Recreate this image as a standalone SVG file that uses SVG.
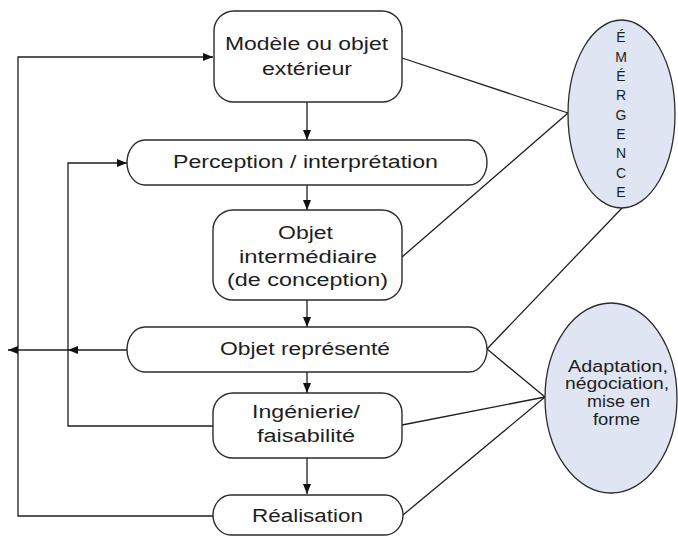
<svg xmlns="http://www.w3.org/2000/svg" width="678" height="536" viewBox="0 0 678 536">
<style>
.box{fill:#fff;stroke:#2b2b2b;stroke-width:1.4}
.ell{fill:#dfe5f2;stroke:#2b2b2b;stroke-width:1.3}
.t{font-family:"Liberation Sans",Arial,sans-serif;font-size:18px;fill:#1e1e1e}
.s{font-family:"Liberation Sans",Arial,sans-serif;font-size:16px;fill:#1e1e1e}
.v{font-family:"Liberation Sans",Arial,sans-serif;font-size:14px;fill:#1e1e1e;text-anchor:middle}
.c{fill:none;stroke:#1e1e1e;stroke-width:1.3}
.a{marker-end:url(#arr)}
</style>
<defs>
<marker id="arr" viewBox="0 0 10 8" refX="10" refY="4" markerWidth="10" markerHeight="8" markerUnits="userSpaceOnUse" orient="auto">
<path d="M0,0 L10,4 L0,8 Z" fill="#111"/>
</marker>
</defs>
<g id="connectors">
<line class="c a" x1="307" y1="102" x2="307" y2="140"/>
<line class="c a" x1="307" y1="185" x2="307" y2="210"/>
<line class="c a" x1="307" y1="300" x2="307" y2="327"/>
<line class="c a" x1="307" y1="372" x2="307" y2="393"/>
<line class="c a" x1="307" y1="458" x2="307" y2="494"/>
<polyline class="c a" points="213,516 18,516 18,57 213,57"/>
<polyline class="c a" points="213,426 68,426 68,163 127,163"/>
<line class="c a" x1="127" y1="350" x2="68" y2="350"/>
<line class="c a" x1="68" y1="350" x2="8" y2="350"/>
<line class="c" x1="402" y1="58" x2="568" y2="113"/>
<line class="c" x1="402" y1="257" x2="568" y2="113"/>
<line class="c" x1="487" y1="349" x2="623" y2="207"/>
<line class="c" x1="487" y1="349" x2="545" y2="397"/>
<line class="c" x1="402" y1="425" x2="545" y2="397"/>
<line class="c" x1="403" y1="515" x2="545" y2="397"/>
</g>
<g id="modele">
<rect class="box" x="214" y="11" width="188" height="91" rx="20" ry="20"/>
<text class="t" x="225" y="50" textLength="163" lengthAdjust="spacingAndGlyphs">Modèle ou objet</text>
<text class="t" x="262" y="75" textLength="90" lengthAdjust="spacingAndGlyphs">extérieur</text>
</g>
<g id="perception">
<rect class="box" x="127" y="140" width="360" height="45" rx="18" ry="22.5"/>
<text class="t" x="173" y="168" textLength="265" lengthAdjust="spacingAndGlyphs">Perception / interprétation</text>
</g>
<g id="intermediaire">
<rect class="box" x="213" y="210" width="189" height="90" rx="20" ry="20"/>
<text class="t" x="278" y="239" textLength="55" lengthAdjust="spacingAndGlyphs">Objet</text>
<text class="t" x="239" y="263" textLength="138" lengthAdjust="spacingAndGlyphs">intermédiaire</text>
<text class="t" x="227" y="286" textLength="161" lengthAdjust="spacingAndGlyphs">(de conception)</text>
</g>
<g id="represente">
<rect class="box" x="127" y="327" width="360" height="45" rx="18" ry="22.5"/>
<text class="t" x="220" y="355" textLength="170" lengthAdjust="spacingAndGlyphs">Objet représenté</text>
</g>
<g id="ingenierie">
<rect class="box" x="213" y="393" width="189" height="65" rx="20" ry="20"/>
<text class="t" x="252" y="418" textLength="108" lengthAdjust="spacingAndGlyphs">Ingénierie/</text>
<text class="t" x="257" y="442" textLength="98" lengthAdjust="spacingAndGlyphs">faisabilité</text>
</g>
<g id="realisation">
<rect class="box" x="213" y="495" width="190" height="40" rx="18" ry="20"/>
<text class="t" x="252" y="522" textLength="111" lengthAdjust="spacingAndGlyphs">Réalisation</text>
</g>
<g id="emergence">
<ellipse class="ell" cx="621.5" cy="114" rx="53.5" ry="94"/>
<text class="v" x="621" y="42">É</text>
<text class="v" x="621" y="62">M</text>
<text class="v" x="621" y="81">É</text>
<text class="v" x="621" y="100">R</text>
<text class="v" x="621" y="120">G</text>
<text class="v" x="621" y="139">E</text>
<text class="v" x="621" y="158">N</text>
<text class="v" x="621" y="178">C</text>
<text class="v" x="621" y="197">E</text>
</g>
<g id="adaptation">
<ellipse class="ell" cx="611" cy="398" rx="66" ry="95"/>
<text class="s" x="568" y="372" textLength="100" lengthAdjust="spacingAndGlyphs">Adaptation,</text>
<text class="s" x="565" y="389" textLength="104" lengthAdjust="spacingAndGlyphs">négociation,</text>
<text class="s" x="587" y="407" textLength="63" lengthAdjust="spacingAndGlyphs">mise en</text>
<text class="s" x="593" y="425" textLength="47" lengthAdjust="spacingAndGlyphs">forme</text>
</g>
</svg>
